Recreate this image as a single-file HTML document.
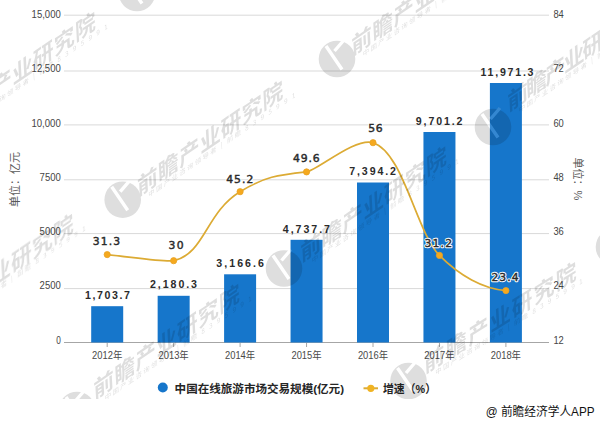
<!DOCTYPE html><html><head><meta charset="utf-8"><title>中国在线旅游市场交易规模</title><style>
html,body{margin:0;padding:0;background:#fff;width:600px;height:422px;overflow:hidden}
svg{display:block}
.ax{font-family:"Liberation Sans","Noto Sans CJK SC",sans-serif;font-size:11.8px;fill:#454545}
.xl{font-family:"Liberation Sans","Noto Sans CJK SC",sans-serif;font-size:10.6px;fill:#4a4a4a}
.vl{font-family:"Liberation Sans","Noto Sans CJK SC",sans-serif;font-weight:bold;font-size:10.6px;fill:#2b2b2b}
.ll,.lh{font-family:"DejaVu Sans","Noto Sans CJK SC",sans-serif;font-size:10.8px}
.lh{fill:#fff;stroke:#fff;stroke-width:2.4px;stroke-linejoin:round}
.ll{fill:#2b2b2b;stroke:#2b2b2b;stroke-width:0.45px}
.tt{font-family:"Liberation Sans","Noto Sans CJK SC",sans-serif;font-size:11px;fill:#595959}
.lg{font-family:"Liberation Sans","Noto Sans CJK SC",sans-serif;font-weight:bold;font-size:11.6px;fill:#262626}
.src{font-family:"Liberation Sans","Noto Sans CJK SC",sans-serif;font-size:12px;fill:#111}
.wm{font-family:"Noto Sans CJK SC",sans-serif;fill:#000}
</style></head><body>
<svg width="600" height="422" viewBox="0 0 600 422">
<rect width="600" height="422" fill="#fff"/>
<line x1="64" y1="15.2" x2="549" y2="15.2" stroke="#d9d9d9" stroke-width="1"/>
<line x1="64" y1="71.0" x2="549" y2="71.0" stroke="#d9d9d9" stroke-width="1"/>
<line x1="64" y1="124.9" x2="549" y2="124.9" stroke="#d9d9d9" stroke-width="1"/>
<line x1="64" y1="179.8" x2="549" y2="179.8" stroke="#d9d9d9" stroke-width="1"/>
<line x1="64" y1="233.6" x2="549" y2="233.6" stroke="#d9d9d9" stroke-width="1"/>
<line x1="64" y1="288.6" x2="549" y2="288.6" stroke="#d9d9d9" stroke-width="1"/>
<line x1="64" y1="342.5" x2="549" y2="342.5" stroke="#a6a6a6" stroke-width="1"/>
<line x1="107.20" y1="342.5" x2="107.20" y2="347.0" stroke="#a6a6a6" stroke-width="1"/>
<line x1="173.65" y1="342.5" x2="173.65" y2="347.0" stroke="#a6a6a6" stroke-width="1"/>
<line x1="240.10" y1="342.5" x2="240.10" y2="347.0" stroke="#a6a6a6" stroke-width="1"/>
<line x1="306.55" y1="342.5" x2="306.55" y2="347.0" stroke="#a6a6a6" stroke-width="1"/>
<line x1="373.00" y1="342.5" x2="373.00" y2="347.0" stroke="#a6a6a6" stroke-width="1"/>
<line x1="439.45" y1="342.5" x2="439.45" y2="347.0" stroke="#a6a6a6" stroke-width="1"/>
<line x1="505.90" y1="342.5" x2="505.90" y2="347.0" stroke="#a6a6a6" stroke-width="1"/>
<rect x="91.20" y="306.2" width="32.0" height="36.30" fill="#1676cb"/>
<rect x="157.65" y="295.8" width="32.0" height="46.70" fill="#1676cb"/>
<rect x="224.10" y="274.3" width="32.0" height="68.20" fill="#1676cb"/>
<rect x="290.55" y="239.8" width="32.0" height="102.70" fill="#1676cb"/>
<rect x="357.00" y="182.5" width="32.0" height="160.00" fill="#1676cb"/>
<rect x="423.45" y="132.0" width="32.0" height="210.50" fill="#1676cb"/>
<rect x="489.90" y="83.0" width="32.0" height="259.50" fill="#1676cb"/>
<text class="ax" x="31.60" y="17.90" textLength="29.2" lengthAdjust="spacingAndGlyphs">15,000</text>
<text class="ax" x="31.60" y="72.20" textLength="29.2" lengthAdjust="spacingAndGlyphs">12,500</text>
<text class="ax" x="31.40" y="126.50" textLength="29.4" lengthAdjust="spacingAndGlyphs">10,000</text>
<text class="ax" x="39.60" y="180.80" textLength="21.2" lengthAdjust="spacingAndGlyphs">7500</text>
<text class="ax" x="39.60" y="235.10" textLength="21.2" lengthAdjust="spacingAndGlyphs">5000</text>
<text class="ax" x="39.60" y="289.40" textLength="21.2" lengthAdjust="spacingAndGlyphs">2500</text>
<text class="ax" x="56.20" y="343.70" textLength="4.6" lengthAdjust="spacingAndGlyphs">0</text>
<text class="ax" x="553.4" y="17.90" textLength="10.4" lengthAdjust="spacingAndGlyphs">84</text>
<text class="ax" x="553.4" y="72.20" textLength="10.4" lengthAdjust="spacingAndGlyphs">72</text>
<text class="ax" x="553.4" y="126.50" textLength="10.4" lengthAdjust="spacingAndGlyphs">60</text>
<text class="ax" x="553.4" y="180.80" textLength="10.4" lengthAdjust="spacingAndGlyphs">48</text>
<text class="ax" x="553.4" y="235.10" textLength="10.4" lengthAdjust="spacingAndGlyphs">36</text>
<text class="ax" x="553.4" y="289.40" textLength="10.4" lengthAdjust="spacingAndGlyphs">24</text>
<text class="ax" x="553.4" y="343.70" textLength="10.4" lengthAdjust="spacingAndGlyphs">12</text>
<text class="xl" x="92.10" y="358.8" textLength="30.2" lengthAdjust="spacingAndGlyphs">2012年</text>
<text class="xl" x="158.55" y="358.8" textLength="30.2" lengthAdjust="spacingAndGlyphs">2013年</text>
<text class="xl" x="225.00" y="358.8" textLength="30.2" lengthAdjust="spacingAndGlyphs">2014年</text>
<text class="xl" x="291.45" y="358.8" textLength="30.2" lengthAdjust="spacingAndGlyphs">2015年</text>
<text class="xl" x="357.90" y="358.8" textLength="30.2" lengthAdjust="spacingAndGlyphs">2016年</text>
<text class="xl" x="424.35" y="358.8" textLength="30.2" lengthAdjust="spacingAndGlyphs">2017年</text>
<text class="xl" x="490.80" y="358.8" textLength="30.2" lengthAdjust="spacingAndGlyphs">2018年</text>
<text class="tt" transform="translate(18.6,179.4) rotate(-90)" text-anchor="middle">单位：亿元</text>
<text class="tt" transform="translate(574,179) rotate(90)" text-anchor="middle">单位：%</text>
<path d="M107.10,254.60 C134.26,257.47 165.77,262.42 173.57,260.70 C204.89,253.79 205.53,212.65 240.04,191.70 C264.91,176.60 277.48,175.01 306.51,171.90 C316.85,170.79 355.09,137.14 372.98,142.70 C403.19,152.08 416.12,231.63 439.45,255.40 C459.38,275.70 483.21,288.85 505.92,290.60" fill="none" stroke="#dcab34" stroke-width="1.7" stroke-linejoin="round"/>
<circle cx="107.20" cy="254.6" r="3.1" fill="#f5a91e" stroke="#e9a226" stroke-width="0.8"/>
<circle cx="173.65" cy="260.7" r="3.1" fill="#f5a91e" stroke="#e9a226" stroke-width="0.8"/>
<circle cx="240.10" cy="191.7" r="3.1" fill="#f5a91e" stroke="#e9a226" stroke-width="0.8"/>
<circle cx="306.55" cy="171.9" r="3.1" fill="#f5a91e" stroke="#e9a226" stroke-width="0.8"/>
<circle cx="373.00" cy="142.7" r="3.1" fill="#f5a91e" stroke="#e9a226" stroke-width="0.8"/>
<circle cx="439.45" cy="255.4" r="3.1" fill="#f5a91e" stroke="#e9a226" stroke-width="0.8"/>
<circle cx="505.90" cy="290.6" r="3.1" fill="#f5a91e" stroke="#e9a226" stroke-width="0.8"/>
<text class="vl" x="85" y="298.8" textLength="45.0" lengthAdjust="spacing">1,703.7</text>
<text class="vl" x="150" y="288.2" textLength="47.0" lengthAdjust="spacing">2,180.3</text>
<text class="vl" x="216.2" y="266.8" textLength="47.8" lengthAdjust="spacing">3,166.6</text>
<text class="vl" x="282.8" y="232.5" textLength="47.2" lengthAdjust="spacing">4,737.7</text>
<text class="vl" x="349.2" y="175.0" textLength="46.8" lengthAdjust="spacing">7,394.2</text>
<text class="vl" x="415.8" y="124.8" textLength="46.7" lengthAdjust="spacing">9,701.2</text>
<text class="vl" x="480.5" y="76.0" textLength="53.0" lengthAdjust="spacing">11,971.3</text>
<text class="lh" x="92.8" y="245.4" textLength="27.2" lengthAdjust="spacing">31.3</text>
<text class="ll" x="92.8" y="245.4" textLength="27.2" lengthAdjust="spacing">31.3</text>
<text class="lh" x="168.6" y="249.4" textLength="15.1" lengthAdjust="spacing">30</text>
<text class="ll" x="168.6" y="249.4" textLength="15.1" lengthAdjust="spacing">30</text>
<text class="lh" x="226.2" y="183.10000000000002" textLength="27.2" lengthAdjust="spacing">45.2</text>
<text class="ll" x="226.2" y="183.10000000000002" textLength="27.2" lengthAdjust="spacing">45.2</text>
<text class="lh" x="293" y="162.4" textLength="26.7" lengthAdjust="spacing">49.6</text>
<text class="ll" x="293" y="162.4" textLength="26.7" lengthAdjust="spacing">49.6</text>
<text class="lh" x="368.2" y="132.0" textLength="14.3" lengthAdjust="spacing">56</text>
<text class="ll" x="368.2" y="132.0" textLength="14.3" lengthAdjust="spacing">56</text>
<text class="lh" x="424.6" y="246.8" textLength="27.4" lengthAdjust="spacing">31.2</text>
<text class="ll" x="424.6" y="246.8" textLength="27.4" lengthAdjust="spacing">31.2</text>
<text class="lh" x="491.5" y="281.3" textLength="27.0" lengthAdjust="spacing">23.4</text>
<text class="ll" x="491.5" y="281.3" textLength="27.0" lengthAdjust="spacing">23.4</text>
<circle cx="162.8" cy="387.5" r="5" fill="#1676cb"/>
<text class="lg" x="174.6" y="393.3" textLength="169.4" lengthAdjust="spacingAndGlyphs">中国在线旅游市场交易规模(亿元)</text>
<line x1="363.5" y1="388.3" x2="378" y2="388.3" stroke="#dcab34" stroke-width="2"/>
<circle cx="370.8" cy="388.3" r="3.6" fill="#f0b323"/>
<text class="lg" x="383" y="393.2" textLength="53" lengthAdjust="spacingAndGlyphs">增速（%）</text>
<text class="src" x="485.8" y="416" textLength="108.7" lengthAdjust="spacingAndGlyphs">@ 前瞻经济学人APP</text>
<defs><clipPath id="wc"><rect x="0" y="0" width="600" height="399"/></clipPath></defs>
<g clip-path="url(#wc)" opacity="0.13">
<g transform="translate(-65,131)">
<circle r="18.3" fill="#000"/>
<path d="M-11,-13 L5,10.5 M-2.5,-8 L7,-19" stroke="#fff" stroke-width="3.4" fill="none"/>
<g transform="translate(0,0) rotate(-3) skewY(-31.4)">
<text class="wm" x="16.5" y="7" font-size="23" font-weight="700" letter-spacing="0.5" transform="scale(0.92,1)">前瞻产业研究院</text>
<text class="wm" x="26" y="15" font-size="6.5" letter-spacing="1.5">中国产业咨询领导者 | 前瞻 8 3 9 5 9 9 1</text>
</g></g>
<g transform="translate(137,-7)">
<circle r="18.3" fill="#000"/>
<path d="M-11,-13 L5,10.5 M-2.5,-8 L7,-19" stroke="#fff" stroke-width="3.4" fill="none"/>
<g transform="translate(0,0) rotate(-3) skewY(-31.4)">
<text class="wm" x="16.5" y="7" font-size="23" font-weight="700" letter-spacing="0.5" transform="scale(0.92,1)">前瞻产业研究院</text>
<text class="wm" x="26" y="15" font-size="6.5" letter-spacing="1.5">中国产业咨询领导者 | 前瞻 8 3 9 5 9 9 1</text>
</g></g>
<g transform="translate(337,59)">
<circle r="18.3" fill="#000"/>
<path d="M-11,-13 L5,10.5 M-2.5,-8 L7,-19" stroke="#fff" stroke-width="3.4" fill="none"/>
<g transform="translate(0,0) rotate(-3) skewY(-31.4)">
<text class="wm" x="16.5" y="7" font-size="23" font-weight="700" letter-spacing="0.5" transform="scale(0.92,1)">前瞻产业研究院</text>
<text class="wm" x="26" y="15" font-size="6.5" letter-spacing="1.5">中国产业咨询领导者 | 前瞻 8 3 9 5 9 9 1</text>
</g></g>
<g transform="translate(493,127)">
<circle r="18.3" fill="#000"/>
<path d="M-11,-13 L5,10.5 M-2.5,-8 L7,-19" stroke="#fff" stroke-width="3.4" fill="none"/>
<g transform="translate(0,-12) rotate(-3) skewY(-31.4)">
<text class="wm" x="16.5" y="7" font-size="23" font-weight="700" letter-spacing="-1.9" transform="scale(0.92,1)">前瞻产业研究院</text>
<text class="wm" x="26" y="15" font-size="6.5" letter-spacing="1.5">中国产业咨询领导者 | 前瞻 8 3 9 5 9 9 1</text>
</g></g>
<g transform="translate(122.7,199.7)">
<circle r="18.3" fill="#000"/>
<path d="M-11,-13 L5,10.5 M-2.5,-8 L7,-19" stroke="#fff" stroke-width="3.4" fill="none"/>
<g transform="translate(0,0) rotate(-3) skewY(-31.4)">
<text class="wm" x="16.5" y="7" font-size="23" font-weight="700" letter-spacing="0.5" transform="scale(0.92,1)">前瞻产业研究院</text>
<text class="wm" x="26" y="15" font-size="6.5" letter-spacing="1.5">中国产业咨询领导者 | 前瞻 8 3 9 5 9 9 1</text>
</g></g>
<g transform="translate(284,268.5)">
<circle r="18.3" fill="#000"/>
<path d="M-11,-13 L5,10.5 M-2.5,-8 L7,-19" stroke="#fff" stroke-width="3.4" fill="none"/>
<g transform="translate(2,-3) rotate(-3) skewY(-31.4)">
<text class="wm" x="16.5" y="7" font-size="23" font-weight="700" letter-spacing="0.5" transform="scale(0.92,1)">前瞻产业研究院</text>
<text class="wm" x="26" y="15" font-size="6.5" letter-spacing="1.5">中国产业咨询领导者 | 前瞻 8 3 9 5 9 9 1</text>
</g></g>
<g transform="translate(614,247)">
<circle r="18.3" fill="#000"/>
<path d="M-11,-13 L5,10.5 M-2.5,-8 L7,-19" stroke="#fff" stroke-width="3.4" fill="none"/>
<g transform="translate(0,0) rotate(-3) skewY(-31.4)">
<text class="wm" x="16.5" y="7" font-size="23" font-weight="700" letter-spacing="0.5" transform="scale(0.92,1)">前瞻产业研究院</text>
<text class="wm" x="26" y="15" font-size="6.5" letter-spacing="1.5">中国产业咨询领导者 | 前瞻 8 3 9 5 9 9 1</text>
</g></g>
<g transform="translate(77,410)">
<circle r="18.3" fill="#000"/>
<path d="M-11,-13 L5,10.5 M-2.5,-8 L7,-19" stroke="#fff" stroke-width="3.4" fill="none"/>
<g transform="translate(2,-7) rotate(-3) skewY(-31.4)">
<text class="wm" x="16.5" y="7" font-size="23" font-weight="700" letter-spacing="0.5" transform="scale(0.92,1)">前瞻产业研究院</text>
<text class="wm" x="26" y="15" font-size="6.5" letter-spacing="1.5">中国产业咨询领导者 | 前瞻 8 3 9 5 9 9 1</text>
</g></g>
<g transform="translate(408.5,381)">
<circle r="18.3" fill="#000"/>
<path d="M-11,-13 L5,10.5 M-2.5,-8 L7,-19" stroke="#fff" stroke-width="3.4" fill="none"/>
<g transform="translate(1,-5) rotate(-3) skewY(-29.1)">
<text class="wm" x="16.5" y="7" font-size="23" font-weight="700" letter-spacing="1.6" transform="scale(0.92,1)">前瞻产业研究院</text>
<text class="wm" x="26" y="15" font-size="6.5" letter-spacing="1.5">中国产业咨询领导者 | 前瞻 8 3 9 5 9 9 1</text>
</g></g>
<g transform="translate(-87,333)">
<circle r="18.3" fill="#000"/>
<path d="M-11,-13 L5,10.5 M-2.5,-8 L7,-19" stroke="#fff" stroke-width="3.4" fill="none"/>
<g transform="translate(0,0) rotate(-3) skewY(-31.4)">
<text class="wm" x="16.5" y="7" font-size="23" font-weight="700" letter-spacing="0.5" transform="scale(0.92,1)">前瞻产业研究院</text>
<text class="wm" x="26" y="15" font-size="6.5" letter-spacing="1.5">中国产业咨询领导者 | 前瞻 8 3 9 5 9 9 1</text>
</g></g>
</g>
</svg></body></html>
